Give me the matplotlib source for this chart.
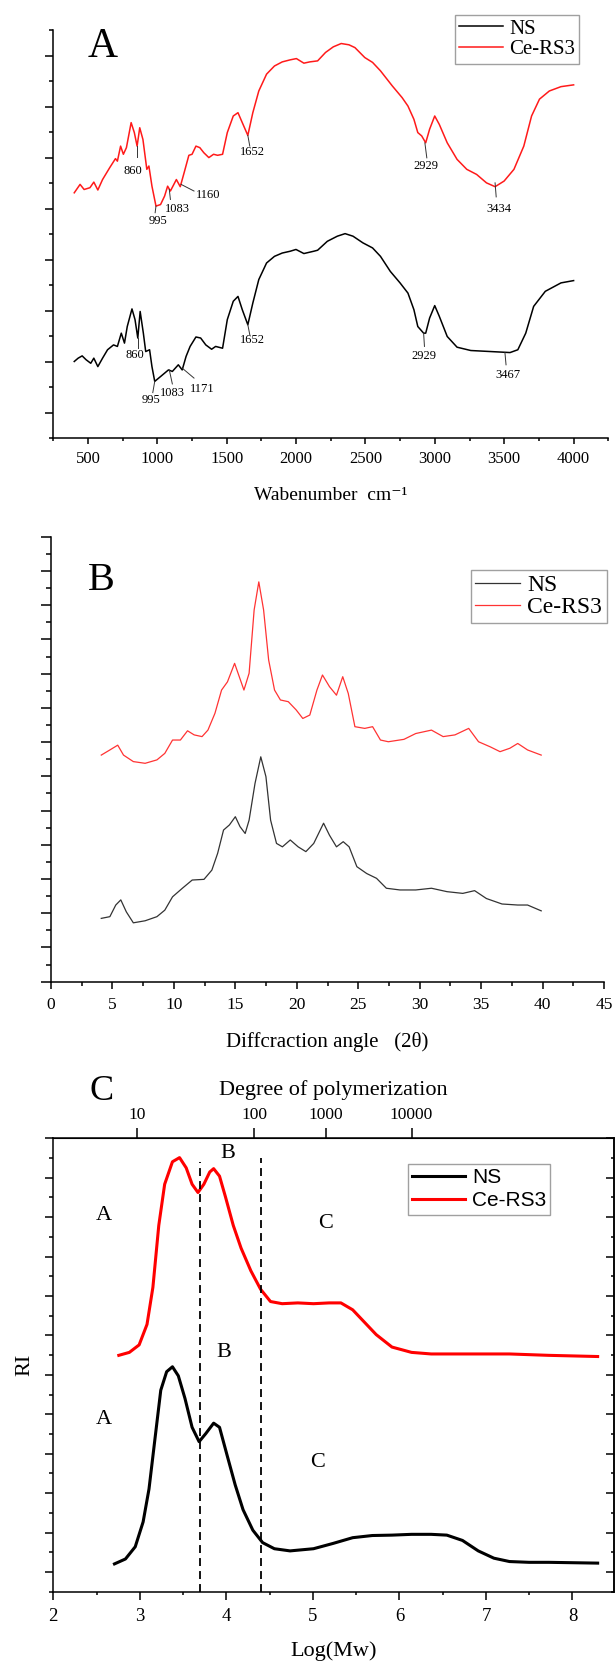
import matplotlib
matplotlib.use('Agg')
import matplotlib.pyplot as plt
from matplotlib.ticker import MultipleLocator, FixedLocator

plt.rcParams['font.family'] = ['Liberation Serif', 'DejaVu Serif']
plt.rcParams['mathtext.default'] = 'regular'

# ---------------- Panel A : FTIR ----------------
ftir_ce_x = [401, 443, 472, 514, 542, 571, 605, 656, 698, 712, 735, 755, 777, 811, 834, 854, 873, 896, 924, 939,
             961, 990, 1023, 1052, 1074, 1094, 1137, 1165, 1193, 1227, 1250, 1278, 1306, 1335, 1371, 1405, 1434,
             1470, 1504, 1547, 1581, 1612, 1652, 1688, 1731, 1787, 1844, 1900, 1957, 2002, 2056, 2098, 2155, 2212,
             2268, 2325, 2381, 2424, 2495, 2551, 2608, 2693, 2764, 2806, 2849, 2877, 2905, 2934, 2962, 2999, 3032,
             3089, 3160, 3230, 3301, 3372, 3434, 3499, 3570, 3641, 3697, 3754, 3825, 3909, 4000]
ftir_ce_y = [9.62, 9.95, 9.75, 9.82, 10.04, 9.73, 10.14, 10.6, 10.96, 10.86, 11.45, 11.13, 11.39, 12.37, 11.98, 11.45,
             12.17, 11.71, 10.54, 10.67, 9.88, 9.10, 9.16, 9.49, 9.88, 9.69, 10.14, 9.86, 10.41, 11.09, 11.13, 11.45,
             11.39, 11.19, 11.0, 11.13, 11.09, 11.13, 11.98, 12.63, 12.76, 12.37, 11.87, 12.76, 13.61, 14.27, 14.59,
             14.75, 14.83, 14.88, 14.70, 14.75, 14.79, 15.12, 15.34, 15.47, 15.42, 15.31, 14.92, 14.73, 14.40, 13.81,
             13.35, 13.02, 12.5, 11.98, 11.85, 11.58, 12.11, 12.63, 12.30, 11.58, 10.93, 10.54, 10.34, 10.01, 9.86,
             10.08, 10.54, 11.45, 12.63, 13.29, 13.61, 13.78, 13.85]
ftir_ns_x = [401, 429, 458, 486, 520, 542, 571, 605, 641, 684, 712, 740, 763, 783, 817, 839, 859, 876, 899, 916, 944,
             961, 981, 1023, 1080, 1108, 1151, 1179, 1207, 1236, 1278, 1312, 1349, 1391, 1420, 1470, 1504, 1547, 1581,
             1612, 1652, 1688, 1731, 1787, 1844, 1900, 1957, 1999, 2056, 2127, 2155, 2225, 2297, 2353, 2410, 2481,
             2551, 2608, 2679, 2749, 2806, 2849, 2877, 2919, 2934, 2962, 2999, 3032, 3089, 3160, 3259, 3400, 3542,
             3598, 3655, 3712, 3796, 3909, 4000]
ftir_ns_y = [3.01, 3.14, 3.23, 3.08, 2.94, 3.14, 2.81, 3.14, 3.47, 3.66, 3.6, 4.12, 3.73, 4.38, 5.07, 4.65, 3.93, 4.97,
             4.12, 3.40, 3.47, 2.81, 2.23, 2.42, 2.68, 2.62, 2.88, 2.68, 3.21, 3.60, 3.97, 3.93, 3.66, 3.49, 3.60, 3.53,
             4.65, 5.37, 5.56, 5.04, 4.45, 5.30, 6.22, 6.87, 7.13, 7.26, 7.33, 7.40, 7.24, 7.33, 7.37, 7.72, 7.92,
             8.02, 7.92, 7.66, 7.46, 7.13, 6.54, 6.09, 5.69, 5.04, 4.38, 4.12, 4.12, 4.71, 5.20, 4.78, 3.99, 3.57,
             3.44, 3.40, 3.36, 3.47, 4.12, 5.17, 5.76, 6.09, 6.18]
ftir_ce_peaks = ['860', '995', '1083', '1160', '1652', '2929', '3434']
ftir_ns_peaks = ['860', '995', '1083', '1171', '1652', '2929', '3467']

# ---------------- Panel B : XRD ----------------
xrd_ce_x = [4.09, 4.79, 5.43, 5.90, 6.70, 7.66, 8.62, 9.26, 9.89, 10.53, 11.11, 11.65, 12.29, 12.77, 13.34, 13.88,
            14.36, 14.94, 15.32, 15.70, 16.12, 16.53, 16.91, 17.30, 17.71, 18.19, 18.67, 19.31, 19.95, 20.49, 21.06,
            21.64, 22.09, 22.66, 23.23, 23.74, 24.19, 24.73, 25.53, 26.17, 26.81, 27.45, 28.72, 29.68, 30.96, 31.91,
            32.87, 33.99, 34.79, 35.75, 36.54, 37.34, 37.98, 38.78, 39.89]
xrd_ce_y = [6.62, 6.77, 6.91, 6.62, 6.43, 6.38, 6.48, 6.67, 7.06, 7.06, 7.33, 7.21, 7.16, 7.35, 7.84, 8.52, 8.76,
            9.30, 8.91, 8.52, 9.01, 10.86, 11.68, 10.86, 9.40, 8.52, 8.23, 8.18, 7.94, 7.69, 7.79, 8.52, 8.96, 8.62,
            8.37, 8.91, 8.42, 7.45, 7.40, 7.45, 7.06, 7.01, 7.08, 7.25, 7.35, 7.16, 7.21, 7.40, 7.01, 6.86, 6.72,
            6.82, 6.96, 6.77, 6.62]
xrd_ns_x = [4.09, 4.79, 5.27, 5.68, 6.13, 6.70, 7.66, 8.62, 9.26, 9.89, 10.69, 11.49, 12.45, 13.09, 13.56, 14.04,
            14.52, 15.0, 15.38, 15.80, 16.12, 16.60, 17.07, 17.49, 17.87, 18.35, 18.83, 19.47, 20.11, 20.74, 21.38,
            22.18, 22.66, 23.23, 23.78, 24.26, 24.89, 25.69, 26.49, 27.29, 28.40, 29.68, 30.96, 32.23, 33.51, 34.47,
            35.43, 36.70, 37.98, 38.78, 39.89]
xrd_ns_y = [1.85, 1.90, 2.24, 2.39, 2.04, 1.72, 1.78, 1.90, 2.09, 2.48, 2.73, 2.97, 2.99, 3.26, 3.75, 4.43, 4.58,
            4.82, 4.53, 4.33, 4.72, 5.79, 6.57, 5.99, 4.72, 4.04, 3.94, 4.14, 3.94, 3.80, 4.04, 4.63, 4.28, 3.94,
            4.09, 3.94, 3.36, 3.16, 3.02, 2.73, 2.68, 2.68, 2.73, 2.63, 2.58, 2.66, 2.43, 2.27, 2.24, 2.24, 2.07]

# ---------------- Panel C : GPC ----------------
gpc_ce_x = [2.757, 2.879, 2.992, 3.083, 3.151, 3.219, 3.287, 3.377, 3.459, 3.536, 3.604, 3.672, 3.740, 3.808, 3.853,
            3.921, 3.989, 4.080, 4.170, 4.283, 4.396, 4.510, 4.645, 4.826, 5.007, 5.188, 5.324, 5.460, 5.596, 5.732,
            5.914, 6.140, 6.367, 6.820, 7.272, 7.725, 8.291]
gpc_ce_y = [11.99, 12.14, 12.52, 13.56, 15.44, 18.58, 20.67, 21.81, 22.02, 21.50, 20.67, 20.25, 20.67, 21.29, 21.46,
            21.08, 20.04, 18.58, 17.43, 16.28, 15.34, 14.72, 14.61, 14.65, 14.61, 14.65, 14.65, 14.30, 13.67, 13.04,
            12.41, 12.14, 12.06, 12.06, 12.06, 11.99, 11.93]
gpc_ns_x = [2.707, 2.834, 2.947, 3.038, 3.106, 3.174, 3.242, 3.310, 3.377, 3.445, 3.522, 3.604, 3.685, 3.762, 3.853,
            3.921, 4.011, 4.102, 4.193, 4.306, 4.419, 4.555, 4.736, 5.007, 5.234, 5.460, 5.687, 5.914, 6.140, 6.367,
            6.548, 6.729, 6.911, 7.092, 7.272, 7.499, 7.725, 8.291]
gpc_ns_y = [1.41, 1.66, 2.28, 3.54, 5.21, 7.72, 10.22, 11.16, 11.41, 10.95, 9.80, 8.34, 7.61, 8.02, 8.55, 8.34, 6.88,
            5.42, 4.16, 3.12, 2.49, 2.18, 2.07, 2.18, 2.45, 2.74, 2.85, 2.87, 2.91, 2.91, 2.87, 2.60, 2.07, 1.70,
            1.53, 1.49, 1.49, 1.45]
gpc_boundaries = [3.69, 4.40]
dp_tick_pos = [2.97, 4.32, 5.15, 6.14]
dp_tick_labels = ['10', '100', '1000', '10000']
region_labels = ['A', 'B', 'C']

W, H = 615, 1664
fig = plt.figure(figsize=(W / 100, H / 100), dpi=100)


def axes_px(l, t, r, b):
    return fig.add_axes([l / W, 1 - b / H, (r - l) / W, (b - t) / H])


def fpos(px, py):
    return px / W, 1 - py / H


RED = '#ff1a1a'

# ===== Panel A =====
axA = axes_px(53.3, 30, 608.3, 438.3)
axA.plot(ftir_ns_x, ftir_ns_y, color='black', lw=1.1, label='NS')
axA.plot(ftir_ce_x, ftir_ce_y, color=RED, lw=1.1, label='Ce-RS3')
axA.set_xlim(250, 4250)
axA.set_ylim(0, 16)
for s in ['top', 'right']:
    axA.spines[s].set_visible(False)
for s in ['left', 'bottom']:
    axA.spines[s].set_linewidth(1.1)
axA.xaxis.set_major_locator(MultipleLocator(500))
axA.xaxis.set_minor_locator(MultipleLocator(250))
axA.yaxis.set_major_locator(MultipleLocator(2, offset=1))
axA.yaxis.set_minor_locator(MultipleLocator(1))
axA.tick_params(axis='x', which='major', direction='out', length=4.5, width=1.1, labelsize=12, pad=5)
axA.tick_params(axis='x', which='minor', direction='out', length=2.5, width=1.1)
axA.tick_params(axis='y', which='major', direction='out', length=5.5, width=1.1, labelleft=False)
axA.tick_params(axis='y', which='minor', direction='out', length=3, width=1.1)
axA.set_xlabel('Wabenumber  cm⁻¹', fontsize=14, labelpad=14)

# peak annotations: (text x, text y, leader x0, y0, x1, y1)
ce_ann = [(825, 10.47, 854, 11.45, 854, 11.03), (1001, 8.53, 990, 9.10, 984, 8.84),
          (1142, 9.00, 1086, 9.75, 1094, 9.36), (1363, 9.55, 1171, 9.95, 1264, 9.69),
          (1683, 11.22, 1652, 11.87, 1666, 11.45), (2933, 10.67, 2928, 11.58, 2942, 10.99),
          (3462, 8.99, 3434, 10.01, 3442, 9.46)]
ns_ann = [(840, 3.27, 859, 3.93, 859, 3.53), (953, 1.51, 981, 2.23, 967, 1.79),
          (1108, 1.79, 1086, 2.68, 1108, 2.13), (1326, 1.94, 1179, 2.75, 1264, 2.36),
          (1688, 3.84, 1652, 4.45, 1666, 4.06), (2919, 3.21, 2919, 4.12, 2925, 3.60),
          (3527, 2.49, 3505, 3.36, 3513, 2.88)]
for labs, anns in ((ftir_ce_peaks, ce_ann), (ftir_ns_peaks, ns_ann)):
    for lab, (tx, ty, x0, y0, x1, y1) in zip(labs, anns):
        axA.plot([x0, x1], [y0, y1], color='#333333', lw=0.7)
        axA.text(tx, ty, lab, ha='center', va='center', fontsize=9)

legA = axA.legend(loc='upper left', bbox_to_anchor=fpos(455, 15), bbox_transform=fig.transFigure,
                  prop={'family': 'Liberation Serif', 'size': 15}, frameon=True, fancybox=False,
                  borderaxespad=0, borderpad=0.2, labelspacing=0.05, handlelength=2.1, handletextpad=0.3)
legA.get_frame().set_edgecolor('#888888')
legA.get_frame().set_linewidth(1.0)
fig.text(*fpos(103, 47), 'A', fontsize=30, ha='center', va='center')

# ===== Panel B =====
axB = axes_px(51, 536.7, 604, 981.7)
axB.plot(xrd_ns_x, xrd_ns_y, color='#333333', lw=0.9, label='NS')
axB.plot(xrd_ce_x, xrd_ce_y, color='#ff3333', lw=0.9, label='Ce-RS3')
axB.set_xlim(0, 45)
axB.set_ylim(0, 13)
for s in ['top', 'right']:
    axB.spines[s].set_visible(False)
for s in ['left', 'bottom']:
    axB.spines[s].set_linewidth(1.1)
axB.xaxis.set_major_locator(MultipleLocator(5))
axB.xaxis.set_minor_locator(MultipleLocator(2.5))
axB.yaxis.set_major_locator(MultipleLocator(1))
axB.yaxis.set_minor_locator(MultipleLocator(0.5))
axB.tick_params(axis='x', which='major', direction='out', length=5, width=1.1, labelsize=12.5, pad=6)
axB.tick_params(axis='x', which='minor', direction='out', length=3, width=1.1)
axB.tick_params(axis='y', which='major', direction='out', length=7, width=1.1, labelleft=False)
axB.tick_params(axis='y', which='minor', direction='out', length=3.5, width=1.1)
axB.set_xlabel('Diffcraction angle   (2θ)', fontsize=15, labelpad=14)
legB = axB.legend(loc='upper left', bbox_to_anchor=fpos(470.6, 570), bbox_transform=fig.transFigure,
                  prop={'family': 'Liberation Serif', 'size': 17}, frameon=True, fancybox=False,
                  borderaxespad=0, borderpad=0.2, labelspacing=0.0, handlelength=1.9, handletextpad=0.3)
legB.get_frame().set_edgecolor('#888888')
legB.get_frame().set_linewidth(1.0)
fig.text(*fpos(101, 581), 'B', fontsize=29, ha='center', va='center')

# ===== Panel C =====
axC = axes_px(53.3, 1138.3, 614.0, 1591.7)
axC.plot(gpc_ns_x, gpc_ns_y, color='black', lw=2.2, label='NS')
axC.plot(gpc_ce_x, gpc_ce_y, color='#ff0000', lw=2.2, label='Ce-RS3')
axC.set_xlim(2, 8.48)
axC.set_ylim(0, 23)
for b, ytop in zip(gpc_boundaries, [21.8, 22.0]):
    axC.plot([b, b], [0, ytop], color='black', lw=1.3, ls=(0, (4.4, 2.8)))
for s in axC.spines.values():
    s.set_linewidth(1.1)
axC.xaxis.set_major_locator(MultipleLocator(1))
axC.xaxis.set_minor_locator(MultipleLocator(0.5))
axC.yaxis.set_major_locator(MultipleLocator(2, offset=1))
axC.yaxis.set_minor_locator(MultipleLocator(1))
axC.tick_params(axis='x', which='major', direction='out', length=5.5, width=1.1, labelsize=13.5, pad=6)
axC.tick_params(axis='x', which='minor', direction='out', length=2.5, width=1.1)
axC.tick_params(axis='y', which='major', direction='out', length=6, width=1.1, left=True, right=False,
                labelleft=False)
axC.tick_params(axis='y', which='minor', direction='out', length=3, width=1.1, left=True, right=False)
axC.set_xlabel('Log(Mw)', fontsize=16, labelpad=12)
axC.set_ylabel('RI', fontsize=16, labelpad=7)

secy = axC.secondary_yaxis('right')
secy.yaxis.set_major_locator(MultipleLocator(2, offset=1))
secy.yaxis.set_minor_locator(MultipleLocator(1))
secy.tick_params(axis='y', which='major', direction='in', length=5.5, width=1.1, labelright=False)
secy.tick_params(axis='y', which='minor', direction='in', length=2.5, width=1.1)
secy.spines['right'].set_linewidth(1.1)

sec = axC.secondary_xaxis('top')
sec.set_xticks(dp_tick_pos, dp_tick_labels)
sec.tick_params(axis='x', direction='out', length=7, width=1.1, labelsize=12.5, pad=4)
sec.xaxis.set_minor_locator(FixedLocator([]))
sec.set_xlabel('Degree of polymerization', fontsize=16, labelpad=9)

# region labels for both curves
region_pos_ce = [(2.585, 19.1), (4.012, 22.23), (5.145, 18.68)]
region_pos_ns = [(2.585, 8.76), (3.976, 12.14), (5.053, 6.56)]
for lab, (x, y) in zip(region_labels, region_pos_ce):
    axC.text(x, y, lab, fontsize=16, ha='center', va='center')
for lab, (x, y) in zip(region_labels, region_pos_ns):
    axC.text(x, y, lab, fontsize=16, ha='center', va='center')

legC = axC.legend(loc='upper left', bbox_to_anchor=fpos(408.3, 1164), bbox_transform=fig.transFigure,
                  prop={'family': 'Liberation Sans', 'size': 15}, frameon=True, fancybox=False,
                  borderaxespad=0, borderpad=0.2, labelspacing=0.2, handlelength=2.5, handletextpad=0.35)
legC.get_frame().set_edgecolor('#888888')
legC.get_frame().set_linewidth(1.0)
fig.text(*fpos(102, 1091), 'C', fontsize=26, ha='center', va='center')

fig.savefig('out.png', dpi=100)
